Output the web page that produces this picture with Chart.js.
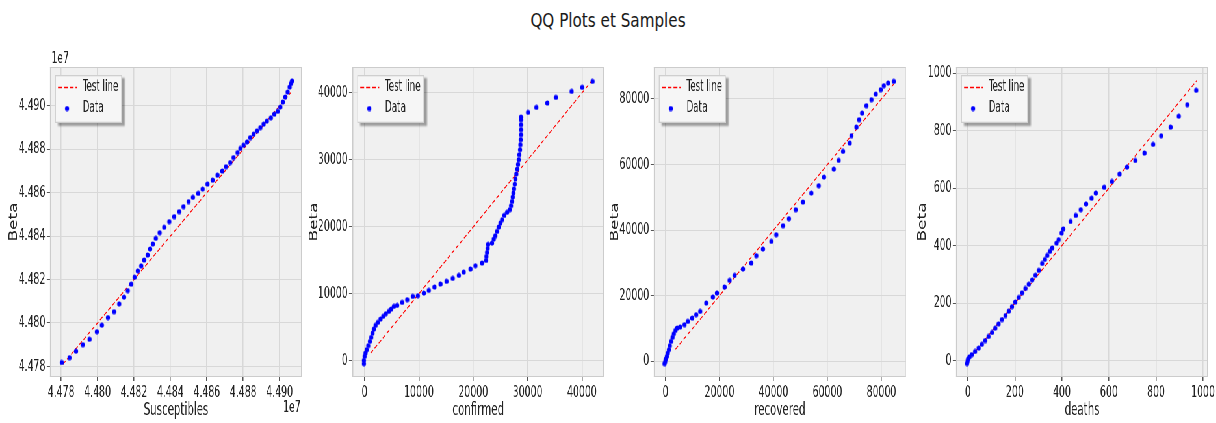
<!DOCTYPE html>
<html>
<head>
<meta charset="utf-8">
<script src="https://cdn.jsdelivr.net/npm/chart.js@4.4.1/dist/chart.umd.min.js"></script>
<style>
html, body { margin: 0; padding: 0; overflow: hidden; background: #fff; width: 1216px; height: 423px; }
/* la figure d'origine est comprimée horizontalement : on dessine large puis on resserre */
#fig { position: absolute; left: 0; top: 0; width: 1871px; height: 423px; transform: scaleX(0.65); transform-origin: 0 0; }
#titre { position: absolute; left: 0; top: 11px; width: 1520px; text-align: center; font: 19px/19px "DejaVu Sans", sans-serif; color: #1a1a1a; transform: scaleX(0.8); transform-origin: 0 0; }
canvas { position: absolute; top: 0; }
</style>
</head>
<body>
<div id="titre">QQ Plots et Samples</div>
<div id="fig">
  <canvas id="c0" width="492" height="423" style="left:0px"></canvas>
  <canvas id="c1" width="492" height="423" style="left:464.62px"></canvas>
  <canvas id="c2" width="492" height="423" style="left:929.23px"></canvas>
  <canvas id="c3" width="492" height="423" style="left:1393.85px"></canvas>
</div>
<script>
// Susceptibles (en unités de 1e7)
const susX = [4.47804,4.47846,4.47882,4.47919,4.47956,4.47996,4.48024,4.48057,4.48091,4.48119,
  4.48146,4.48166,4.48185,4.48203,4.48221,4.48240,4.48256,4.48275,4.48289,4.48304,
  4.48320,4.48341,4.48366,4.48394,4.48421,4.48449,4.48472,4.48500,4.48524,4.48553,
  4.48577,4.48604,4.48632,4.48659,4.48685,4.48705,4.48729,4.48747,4.48769,4.48784,
  4.48802,4.48821,4.48839,4.48857,4.48876,4.48894,4.48912,4.48930,4.48952,4.48971,
  4.48989,4.49004,4.49018,4.49031,4.49044,4.49055,4.49062,4.49068];
const susY = [4.47818,4.47840,4.47870,4.47900,4.47925,4.47960,4.47990,4.48025,4.48052,4.48088,
  4.48119,4.48149,4.48179,4.48211,4.48240,4.48263,4.48290,4.48313,4.48341,4.48364,
  4.48390,4.48416,4.48441,4.48467,4.48490,4.48513,4.48536,4.48559,4.48579,4.48597,
  4.48617,4.48640,4.48658,4.48681,4.48700,4.48720,4.48739,4.48762,4.48785,4.48804,
  4.48819,4.48834,4.48854,4.48870,4.48885,4.48900,4.48916,4.48930,4.48945,4.48962,
  4.48975,4.48995,4.49018,4.49041,4.49064,4.49087,4.49103,4.49115];
const susLine = [4.4781, 4.4906];
const susTicks = [4.478, 4.480, 4.482, 4.484, 4.486, 4.488, 4.490];

// confirmed
const confX = [-120,-120,0,180,370,670,980,1230,1470,1720,
  2020,2450,2940,3430,3920,4470,4900,5390,6000,6920,
  7840,8880,9800,10900,11820,12860,13970,15070,16230,17340,
  18250,19480,20400,21620,22360,22420,22540,22660,22730,23460,
  23770,24070,24380,24690,24990,25300,25730,26220,26710,26950,
  27140,27260,27380,27500,27630,27750,27930,28120,28240,28360,
  28480,28610,28670,28730,28790,28790,28790,28790,28790,
  30080,31610,33630,35220,38100,40060,41960];
const confY = [-450,50,650,1150,1640,2240,2890,3490,4130,4730,
  5280,5730,6230,6630,7020,7370,7720,8120,8270,8720,
  9120,9610,9710,10110,10510,11010,11460,11860,12300,12750,
  13250,13700,14200,14600,14990,15590,16190,16790,17390,17580,
  18180,18680,19330,19980,20570,21070,21720,22170,22570,23160,
  23810,24460,25060,25700,26400,27150,27900,28640,29340,30040,
  30790,31530,32280,33030,33770,34520,35270,36010,36410,
  37110,37860,38510,39350,40250,40850,41740];
const confLine = [1100, 41900];
const confTicks = [0, 10000, 20000, 30000, 40000];

// recovered
const recX = [-370,-120,120,490,870,1240,1610,2100,2600,3090,
  3710,4330,5440,7050,8280,9890,11380,12860,15090,17560,
  19040,21890,23740,25600,28690,31780,33630,36110,39200,41050,
  43520,45750,48220,50940,54040,56760,58730,62320,64170,65780,
  68250,68870,70730,71720,72830,74440,76290,77900,79750,80870,
  82470,84580];
const recY = [-710,-100,710,1520,2540,3560,4780,6100,7320,8440,
  9450,10170,10470,11180,12200,13210,14230,15250,17790,19620,
  20840,22670,24700,26230,28160,29990,32220,34260,36590,38630,
  41370,43510,46250,48590,51330,53570,56210,58650,61290,64040,
  66580,68820,71460,73700,75730,77970,79800,81520,82850,84070,
  84880,85390];
const recLine = [3700, 84900];
const recTicks = [0, 20000, 40000, 60000, 80000];

// deaths
const deathX = [-3,-1,1,7,17,31,46,60,74,88,
  103,117,131,145,160,174,188,202,217,231,
  245,259,274,288,302,316,328,338,349,359,
  377,386,399,406,437,459,480,503,526,544,
  580,613,645,677,712,751,788,822,862,897,
  933,971];
const deathY = [-10,-2,6,13,21,32,44,57,70,84,
  98,113,128,143,157,172,188,204,220,236,
  251,266,281,297,314,338,352,366,380,392,
  409,421,444,458,484,505,525,545,565,583,
  603,623,649,673,696,722,752,782,812,850,
  890,940];
const deathLine = [0, 975];
const deathTicks = [0, 200, 400, 600, 800, 1000];

const etroite = '"Liberation Sans Narrow", "DejaVu Sans Condensed", "Liberation Sans", sans-serif';
const rouge = '#ff0000';
const bleu = '#0000ff';
Chart.defaults.font.family = etroite;
Chart.defaults.color = '#222';

// point ovale : une fois la page resserrée il fait ~4 x 5 px
const pastille = document.createElement('canvas');
pastille.width = 8;
pastille.height = 6;
(function () {
  const c = pastille.getContext('2d');
  c.fillStyle = bleu;
  c.beginPath();
  c.ellipse(4, 3, 3.2, 2.6, 0, 0, Math.PI * 2);
  c.fill();
})();

// fond gris et cadre de la zone de tracé
const fondAxes = {
  id: 'fondAxes',
  beforeDraw(chart) {
    const a = chart.chartArea, ctx = chart.ctx;
    ctx.save();
    ctx.fillStyle = '#f0f0f0';
    ctx.fillRect(a.left, a.top, a.right - a.left, a.bottom - a.top);
    ctx.restore();
  },
  beforeDatasetsDraw(chart) {
    const a = chart.chartArea, ctx = chart.ctx;
    ctx.save();
    ctx.strokeStyle = '#cccccc';
    ctx.lineWidth = 1;
    ctx.beginPath();
    ctx.moveTo(a.left, a.top + 0.5); ctx.lineTo(a.right, a.top + 0.5);
    ctx.moveTo(a.left, a.bottom - 0.5); ctx.lineTo(a.right, a.bottom - 0.5);
    ctx.stroke();
    ctx.lineWidth = 1.6;
    ctx.beginPath();
    ctx.moveTo(a.left + 0.8, a.top); ctx.lineTo(a.left + 0.8, a.bottom);
    ctx.moveTo(a.right - 0.8, a.top); ctx.lineTo(a.right - 0.8, a.bottom);
    ctx.stroke();
    ctx.restore();
  }
};

// légende en haut à gauche avec ombre
const legendeBoite = {
  id: 'legendeBoite',
  afterDraw(chart) {
    const a = chart.chartArea, ctx = chart.ctx;
    const ds = chart.data.datasets;
    const x = a.left + 7.7, y = a.top + 8, w = 103, h = 48;
    ctx.save();
    ctx.shadowColor = 'rgba(0,0,0,0.35)';
    ctx.shadowOffsetX = 4.6;
    ctx.shadowOffsetY = 3;
    ctx.shadowBlur = 2;
    ctx.fillStyle = '#f6f6f6';
    ctx.fillRect(x, y, w, h);
    ctx.restore();

    ctx.save();
    ctx.strokeStyle = '#cfcfcf';
    ctx.lineWidth = 1.3;
    ctx.strokeRect(x + 0.65, y + 0.65, w - 1.3, h - 1.3);

    ctx.strokeStyle = rouge;
    ctx.lineWidth = 1.4;
    ctx.setLineDash([6, 3]);
    ctx.beginPath();
    ctx.moveTo(x + 4.6, y + 12.5);
    ctx.lineTo(x + 33.8, y + 12.5);
    ctx.stroke();
    ctx.setLineDash([]);

    ctx.drawImage(pastille, x + 18.5 - 4, y + 33.5 - 3);

    ctx.fillStyle = '#222';
    ctx.font = '15px ' + etroite;
    ctx.textBaseline = 'middle';
    ctx.fillText(ds[0].label, x + 42.6, y + 12.5);
    ctx.fillText(ds[1].label, x + 42.6, y + 33.5);
    ctx.restore();
  }
};

// facteur d'échelle 1e7 du premier graphique
const facteur = {
  id: 'facteur',
  afterDraw(chart, args, opts) {
    if (!opts.texte) return;
    const a = chart.chartArea, ctx = chart.ctx;
    ctx.save();
    ctx.fillStyle = '#222';
    ctx.font = '16px ' + etroite;
    ctx.textBaseline = 'middle';
    ctx.textAlign = 'left';
    ctx.fillText(opts.texte, a.left + 2, a.top - 8);
    ctx.textAlign = 'right';
    ctx.fillText(opts.texte, a.right - 2, a.bottom + 31);
    ctx.restore();
  }
};

function points(xs, ys) {
  return xs.map((x, i) => ({x: x, y: ys[i]}));
}

function dessine(id, xs, ys, ligne, ticks, xTitre, xr, yr, fmt, betaPad, texte) {
  const axe = (r, vertical) => ({
    type: 'linear',
    min: r[0],
    max: r[1],
    afterBuildTicks: s => { s.ticks = ticks.map(v => ({value: v})); },
    afterFit: s => { if (vertical) s.width = 76.9; else s.height = 46; },
    grid: {color: '#d8d8d8', lineWidth: vertical ? 1 : 1.5, tickColor: '#555', tickWidth: vertical ? 1 : 1.5, tickLength: vertical ? 5 : 4},
    border: {display: false},
    ticks: {font: {size: 16}, padding: 2, maxRotation: 0, autoSkip: false, callback: v => fmt(v)},
    title: vertical
      ? {display: true, text: 'Beta', color: '#222', font: {family: 'DejaVu Sans', size: 17}, padding: {top: betaPad, bottom: 0}}
      : {display: true, text: xTitre, color: '#222', font: {size: 17.5}, padding: {top: 0, bottom: 2}}
  });

  new Chart(document.getElementById(id), {
    type: 'scatter',
    data: {
      datasets: [
        {
          label: 'Test line',
          data: [{x: ligne[0], y: ligne[0]}, {x: ligne[1], y: ligne[1]}],
          showLine: true,
          borderColor: rouge,
          borderWidth: 1.2,
          borderDash: [5, 3],
          pointRadius: 0,
          order: 1
        },
        {
          label: 'Data',
          data: points(xs, ys),
          pointStyle: pastille,
          pointRadius: 3,
          order: 0
        }
      ]
    },
    options: {
      responsive: false,
      animation: false,
      layout: {padding: {left: 0, top: 67, right: 27.4, bottom: 0}},
      plugins: {
        legend: {display: false},
        tooltip: {enabled: false},
        facteur: {texte: texte}
      },
      scales: {x: axe(xr, false), y: axe(yr, true)}
    },
    plugins: [fondAxes, legendeBoite, facteur]
  });
}

const entier = v => String(v);

dessine('c0', susX, susY, susLine, susTicks, 'Susceptibles',
  [4.47739, 4.49123], [4.47751, 4.49179], v => v.toFixed(3), 11.0, '1e7');
dessine('c1', confX, confY, confLine, confTicks, 'confirmed',
  [-2266, 44104], [-2441, 43885], entier, 7.9, null);
dessine('c2', recX, recY, recLine, recTicks, 'recovered',
  [-4328, 89026], [-4778, 89758], entier, 7.5, null);
dessine('c3', deathX, deathY, deathLine, deathTicks, 'deaths',
  [-49.9, 1021.4], [-56.8, 1020.9], entier, 15.6, null);
</script>
</body>
</html>
